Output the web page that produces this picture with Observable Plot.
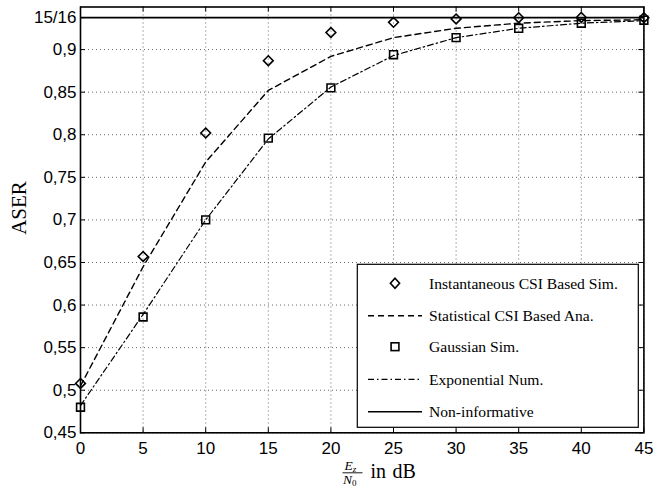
<!DOCTYPE html>
<html><head><meta charset="utf-8">
<script src="https://cdn.jsdelivr.net/npm/d3@7"></script>
<script src="https://cdn.jsdelivr.net/npm/@observablehq/plot@0.6"></script>
<style>body{margin:0;background:#fff} #chart svg{display:block}</style>
</head><body><div id="chart"></div>
<script>
// ---- data ----
const snrDb = [0, 5, 10, 15, 20, 25, 30, 35, 40, 45];
const instantaneousSim = [0.508, 0.657, 0.802, 0.887, 0.920, 0.932, 0.936, 0.9375, 0.9378, 0.9374];
const statisticalAna   = [0.505, 0.645, 0.768, 0.852, 0.892, 0.914, 0.925, 0.931, 0.934, 0.935];
const gaussianSim      = [0.480, 0.586, 0.700, 0.796, 0.855, 0.894, 0.914, 0.925, 0.931, 0.9345];
const exponentialNum   = [0.482, 0.589, 0.700, 0.795, 0.856, 0.893, 0.914, 0.925, 0.931, 0.934];
const nonInformative = 15 / 16;
const xTicks = [0, 5, 10, 15, 20, 25, 30, 35, 40, 45];
const yTicks = [0.45, 0.5, 0.55, 0.6, 0.65, 0.7, 0.75, 0.8, 0.85, 0.9, 15 / 16];
const yTickLabels = ["0,45", "0,5", "0,55", "0,6", "0,65", "0,7", "0,75", "0,8", "0,85", "0,9", "15/16"];
const legendLabels = ["Instantaneous CSI Based Sim.", "Statistical CSI Based Ana.", "Gaussian Sim.", "Exponential Num.", "Non-informative"];

const rows = snrDb.map((x, i) => ({
  x, inst: instantaneousSim[i], stat: statisticalAna[i], gauss: gaussianSim[i], exp: exponentialNum[i]
}));

const W = 668, H = 489, mL = 80, mR = 24.6, mT = 6.5, mB = 56.7;
const pw = W - mL - mR, ph = H - mT - mB;
const gridStyle = {stroke: "#666", strokeOpacity: 1, strokeWidth: 1, strokeDasharray: "1,3"};
const dashed = "6,4";
const dashDot = "6,3,1.5,3";

const plot = Plot.plot({
  width: W, height: H,
  marginLeft: mL, marginRight: mR, marginTop: mT, marginBottom: mB,
  style: {fontFamily: "'Liberation Sans', Arial, sans-serif", fontSize: "17px", background: "white", color: "black"},
  x: {domain: [0, 45]},
  y: {domain: [0.45, 0.95]},
  marks: [
    Plot.gridX(xTicks, gridStyle),
    Plot.gridY(yTicks.slice(0, 10), gridStyle),
    Plot.lineY(rows, {x: "x", y: "stat", stroke: "black", strokeWidth: 1.4, strokeDasharray: dashed}),
    Plot.lineY(rows, {x: "x", y: "exp", stroke: "black", strokeWidth: 1.2, strokeDasharray: dashDot}),
    Plot.ruleY([nonInformative], {stroke: "black", strokeWidth: 1.6}),
    Plot.dot(rows, {x: "x", y: "inst", symbol: "diamond2", r: 4.4, stroke: "black", strokeWidth: 1.6, fill: "none"}),
    Plot.dot(rows, {x: "x", y: "gauss", symbol: "square", r: 4.4, stroke: "black", strokeWidth: 1.6, fill: "none"}),
    Plot.tickX(xTicks, {x: d => d, insetTop: ph - 5, stroke: "black"}),
    Plot.tickX(xTicks, {x: d => d, insetBottom: ph - 5, stroke: "black"}),
    Plot.tickY(yTicks, {y: d => d, insetRight: pw - 5, stroke: "black"}),
    Plot.tickY(yTicks, {y: d => d, insetLeft: pw - 5, stroke: "black"}),
    Plot.axisX(xTicks, {tickSize: 0, tickPadding: 9, label: null, tickFormat: d => String(d)}),
    Plot.axisY(yTicks, {tickSize: 0, tickPadding: 4, label: null, tickFormat: d => yTickLabels[yTicks.indexOf(d)]}),
    Plot.frame({stroke: "black", strokeWidth: 1.6})
  ]
});
document.getElementById("chart").appendChild(plot);

// ---- annotations: axis titles and legend ----
const svg = d3.select(plot);
const serif = "'Liberation Serif', 'Times New Roman', serif";

svg.append("text")
  .attr("transform", "translate(25.5,208) rotate(-90)")
  .attr("text-anchor", "middle")
  .attr("font-family", serif).attr("font-size", 21)
  .attr("fill", "black")
  .text("ASER");

// x label: E_z / N_0 in dB
const num = svg.append("text").attr("x", 344.5).attr("y", 470).attr("text-anchor", "start")
  .attr("font-family", serif).attr("font-size", 13.5).attr("font-style", "italic").attr("fill", "black");
num.append("tspan").text("E");
num.append("tspan").attr("font-size", 9).attr("dy", 1.8).text("z");
svg.append("line").attr("x1", 342.5).attr("x2", 362.5).attr("y1", 472.8).attr("y2", 472.8)
  .attr("stroke", "black").attr("stroke-width", 0.9);
const den = svg.append("text").attr("x", 343).attr("y", 483.5).attr("text-anchor", "start")
  .attr("font-family", serif).attr("font-size", 13.5).attr("font-style", "italic").attr("fill", "black");
den.append("tspan").text("N");
den.append("tspan").attr("font-size", 9).attr("font-style", "normal").attr("dy", 2.3).text("0");
svg.append("text").attr("x", 370.5).attr("y", 477.8).attr("text-anchor", "start")
  .attr("font-family", serif).attr("font-size", 20).attr("fill", "black")
  .attr("word-spacing", 1.5)
  .text("in dB");

// legend
const lg = svg.append("g");
lg.append("rect").attr("x", 357.3).attr("y", 264.3).attr("width", 281).attr("height", 163)
  .attr("fill", "white").attr("stroke", "black").attr("stroke-width", 1.2);
const ys = [283.3, 315.7, 346.7, 379.3, 411.7];
const sx = 395;
legendLabels.forEach((t, i) => {
  lg.append("text").attr("x", 429).attr("y", ys[i]).attr("dy", "0.34em").attr("text-anchor", "start")
    .attr("font-family", serif).attr("font-size", 15.6).attr("fill", "black").text(t);
});
// diamond
lg.append("path").attr("d", `M${sx},${ys[0] - 5}L${sx + 4.6},${ys[0]}L${sx},${ys[0] + 5}L${sx - 4.6},${ys[0]}Z`)
  .attr("fill", "none").attr("stroke", "black").attr("stroke-width", 1.6);
// dashed
lg.append("line").attr("x1", 368).attr("x2", 422).attr("y1", ys[1]).attr("y2", ys[1])
  .attr("stroke", "black").attr("stroke-width", 1.4).attr("stroke-dasharray", dashed);
// square
lg.append("rect").attr("x", sx - 3.9).attr("y", ys[2] - 3.9).attr("width", 7.8).attr("height", 7.8)
  .attr("fill", "none").attr("stroke", "black").attr("stroke-width", 1.6);
// dash-dot
lg.append("line").attr("x1", 368).attr("x2", 422).attr("y1", ys[3]).attr("y2", ys[3])
  .attr("stroke", "black").attr("stroke-width", 1.2).attr("stroke-dasharray", dashDot);
// solid
lg.append("line").attr("x1", 368).attr("x2", 422).attr("y1", ys[4]).attr("y2", ys[4])
  .attr("stroke", "black").attr("stroke-width", 1.6);
</script>
</body></html>
